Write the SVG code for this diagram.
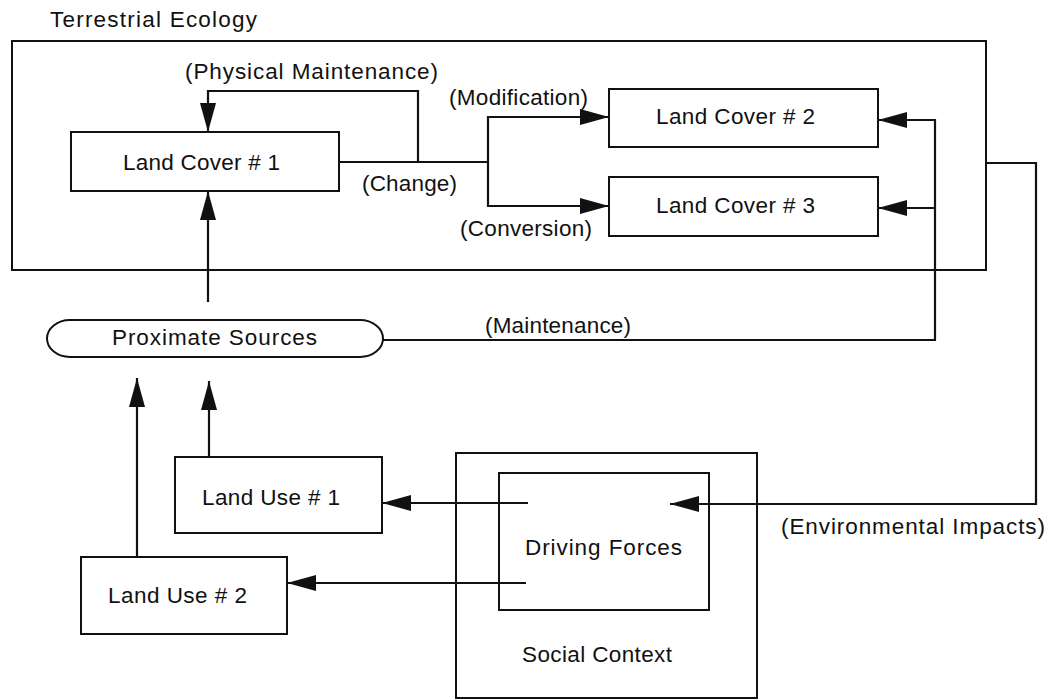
<svg xmlns="http://www.w3.org/2000/svg" width="1048" height="700" viewBox="0 0 1048 700">
<style>
.box{fill:none;stroke:#111;stroke-width:2}
.con{fill:none;stroke:#111;stroke-width:2.2}
text{font-family:"Liberation Sans",Arial,Helvetica,sans-serif;font-size:22.5px;fill:#111}
</style>
<defs>
<marker id="arr" markerUnits="userSpaceOnUse" markerWidth="30" markerHeight="17" refX="29" refY="8" orient="auto">
<path d="M0,0 L29,8 L0,16 Z" fill="#111"/>
</marker>
</defs>
<rect width="1048" height="700" fill="#fff"/>

<g id="terrestrial-ecology">
<rect class="box" x="12" y="41" width="974" height="229"/>
<text x="50" y="27" textLength="207" lengthAdjust="spacing">Terrestrial Ecology</text>
</g>
<g id="land-cover-1">
<rect class="box" x="71" y="132" width="268" height="59"/>
<text x="123" y="170" textLength="157" lengthAdjust="spacing">Land Cover # 1</text>
</g>
<g id="land-cover-2">
<rect class="box" x="609" y="89" width="269" height="58"/>
<text x="656" y="124" textLength="159" lengthAdjust="spacing">Land Cover # 2</text>
</g>
<g id="land-cover-3">
<rect class="box" x="609" y="177" width="269" height="59"/>
<text x="656" y="213" textLength="159" lengthAdjust="spacing">Land Cover # 3</text>
</g>
<g id="proximate-sources">
<path class="box" d="M70,320 H360 A23,18.5 0 0 1 360,357 H70 A23,18.5 0 0 1 70,320 Z"/>
<text x="112" y="345" textLength="205" lengthAdjust="spacing">Proximate Sources</text>
</g>
<g id="land-use-1">
<rect class="box" x="175" y="457" width="207" height="76"/>
<text x="202" y="505" textLength="138" lengthAdjust="spacing">Land Use # 1</text>
</g>
<g id="land-use-2">
<rect class="box" x="81" y="557" width="206" height="77"/>
<text x="108" y="603" textLength="139" lengthAdjust="spacing">Land Use # 2</text>
</g>
<g id="social-context">
<rect class="box" x="456" y="453" width="301" height="245"/>
<text x="522" y="662" textLength="150" lengthAdjust="spacing">Social Context</text>
</g>
<g id="driving-forces">
<rect class="box" x="499" y="473" width="210" height="137"/>
<text x="525" y="555" textLength="157" lengthAdjust="spacing">Driving Forces</text>
</g>

<g id="connectors">
<path class="con" d="M418,162 V91 H208 V132" marker-end="url(#arr)"/>
<path class="con" d="M339,162 H488"/>
<path class="con" d="M488,162 V117 H609" marker-end="url(#arr)"/>
<path class="con" d="M488,162 V206 H609" marker-end="url(#arr)"/>
<path class="con" d="M383,340 H935 V120 H878" marker-end="url(#arr)"/>
<path class="con" d="M935,208 H878" marker-end="url(#arr)"/>
<path class="con" d="M986,163 H1036 V504 H670" marker-end="url(#arr)"/>
<path class="con" d="M208,302 V191" marker-end="url(#arr)"/>
<path class="con" d="M209,457 V381" marker-end="url(#arr)"/>
<path class="con" d="M137,557 V378" marker-end="url(#arr)"/>
<path class="con" d="M528,503 H382" marker-end="url(#arr)"/>
<path class="con" d="M526,583 H287" marker-end="url(#arr)"/>
<text x="185" y="79" textLength="253" lengthAdjust="spacing">(Physical Maintenance)</text>
<text x="362" y="191" textLength="95" lengthAdjust="spacing">(Change)</text>
<text x="449" y="105" textLength="139" lengthAdjust="spacing">(Modification)</text>
<text x="460" y="236" textLength="132" lengthAdjust="spacing">(Conversion)</text>
<text x="485" y="333" textLength="146" lengthAdjust="spacing">(Maintenance)</text>
<text x="781" y="534" textLength="264" lengthAdjust="spacing">(Environmental Impacts)</text>
</g>
</svg>
